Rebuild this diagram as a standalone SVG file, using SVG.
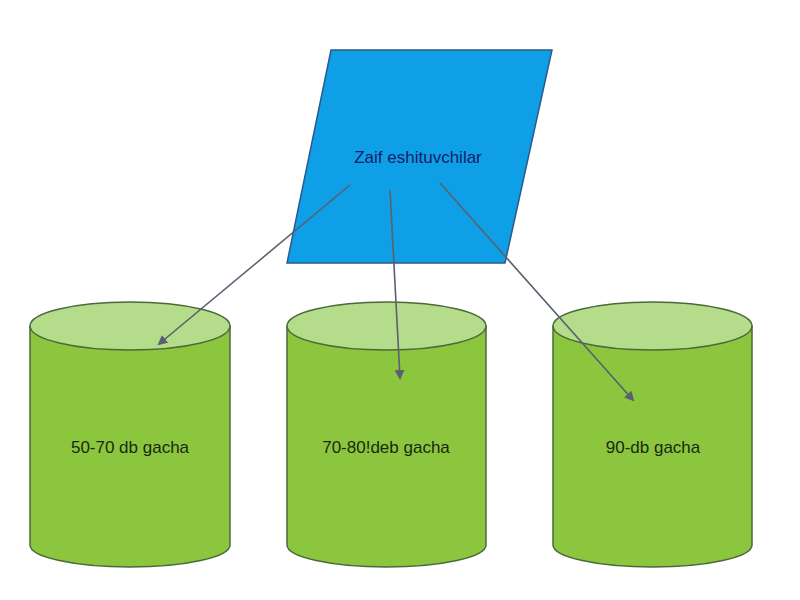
<svg xmlns="http://www.w3.org/2000/svg" width="800" height="600" viewBox="0 0 800 600">
<defs>
<style>
.body{fill:#8cc63f;stroke:#4a6a3a;stroke-width:1.5}
.top{fill:#b5dc8a;stroke:#4a6a3a;stroke-width:1.5}
.lbl{font-family:"Liberation Sans",Arial,sans-serif;font-size:17px;fill:#1a2a10;text-anchor:middle}
.conn{stroke:#5a6070;stroke-width:1.6;fill:none;marker-end:url(#ah)}
</style>
<marker id="ah" markerWidth="10" markerHeight="10" refX="8" refY="5" orient="auto" markerUnits="userSpaceOnUse"><path d="M0,0 L10,5 L0,10 Z" fill="#5a6070"/></marker>
</defs>
<rect width="800" height="600" fill="#fff"/>
<g id="n0">
<polygon points="331,50 552,50 505,263 287,263" fill="#0f9fe6" stroke="#2a5a8a" stroke-width="1.5"/>
<text x="418" y="163" class="lbl" style="fill:#12206a">Zaif eshituvchilar</text>
</g>
<g id="n1">
<path class="body" d="M30,326 V545 A100,22 0 0 0 230,545 V326 Z"/>
<ellipse class="top" cx="130" cy="326" rx="100" ry="24"/>
<text x="130" y="453" class="lbl">50-70 db gacha</text>
</g>
<g id="n2">
<path class="body" d="M287,326 V545 A99.5,22 0 0 0 486,545 V326 Z"/>
<ellipse class="top" cx="386.5" cy="326" rx="99.5" ry="24"/>
<text x="386" y="453" class="lbl">70-80!deb gacha</text>
</g>
<g id="n3">
<path class="body" d="M553,326 V545 A99.5,22 0 0 0 752,545 V326 Z"/>
<ellipse class="top" cx="652.5" cy="326" rx="99.5" ry="24"/>
<text x="653" y="453" class="lbl">90-db gacha</text>
</g>
<g id="connectors">
<line class="conn" x1="350" y1="185" x2="159" y2="344"/>
<line class="conn" x1="390" y1="190" x2="400" y2="378"/>
<line class="conn" x1="440" y1="183" x2="633" y2="400"/>
</g>
</svg>
